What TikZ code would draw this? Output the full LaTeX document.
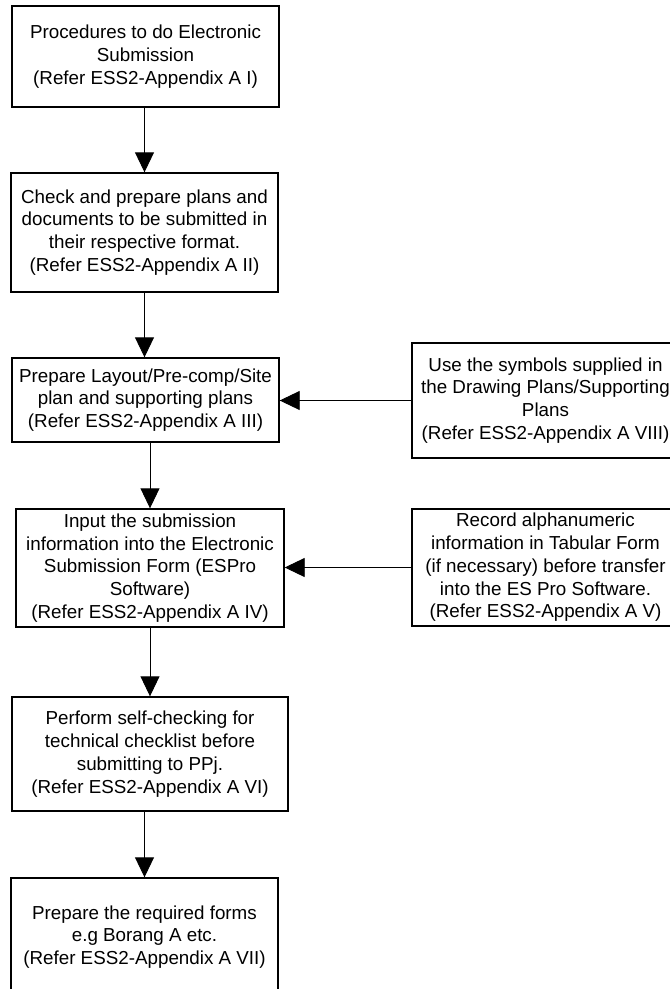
\documentclass[tikz,border=0pt]{standalone}
\usepackage{fontspec}
\setmainfont{Liberation Sans}
\usetikzlibrary{arrows.meta}
\tikzset{
  flowbox/.style={draw=black, line width=1.4pt, fill=white, align=center, inner sep=0pt,
    font=\fontsize{18.8}{22.8}\selectfont},
  flowarrow/.style={draw=black, line width=0.9pt, -{Triangle[length=20pt,width=19pt]}}
}
\begin{document}
\begin{tikzpicture}[x=1pt,y=-1pt]
\useasboundingbox (0,0) rectangle (670,989);
\clip (0,0) rectangle (670,989);
\fill[white] (0,0) rectangle (670,989);

\node[flowbox, minimum width=267pt, minimum height=101pt] (b1) at (145.5,56.5)
  {Procedures to do Electronic\\Submission\\(Refer ESS2-Appendix A I)};
\node[flowbox, minimum width=267pt, minimum height=119pt] (b2) at (144.5,232.5)
  {Check and prepare plans and\\documents to be submitted in\\their respective format.\\(Refer ESS2-Appendix A II)};
\node[flowbox, minimum width=267pt, minimum height=84pt] (b3) at (145.5,400)
  {Prepare Layout/Pre-comp/Site\\plan and supporting plans\\(Refer ESS2-Appendix A III)};
\node[flowbox, minimum width=268pt, minimum height=118pt] (b4) at (150,568)
  {Input the submission\\information into the Electronic\\Submission Form (ESPro\\Software)\\(Refer ESS2-Appendix A IV)};
\node[flowbox, minimum width=276pt, minimum height=114pt] (b5) at (150,754)
  {Perform self-checking for\\technical checklist before\\submitting to PPj.\\(Refer ESS2-Appendix A VI)};
\node[flowbox, minimum width=267pt, minimum height=118pt] (b6) at (144.5,937)
  {Prepare the required forms\\e.g Borang A etc.\\(Refer ESS2-Appendix A VII)};
\node[flowbox, minimum width=267pt, minimum height=115pt] (r1) at (545.5,400.5)
  {Use the symbols supplied in\\the Drawing Plans/Supporting\\Plans\\(Refer ESS2-Appendix A VIII)};
\node[flowbox, minimum width=267pt, minimum height=117pt] (r2) at (545.5,567.5)
  {Record alphanumeric\\information in Tabular Form\\(if necessary) before transfer\\into the ES Pro Software.\\(Refer ESS2-Appendix A V)};

\draw[flowarrow] (b1.south -| b2.north) -- (b2.north);
\draw[flowarrow] (b2.south) -- (b2.south |- b3.north);
\draw[flowarrow] (b3.south -| b4.north) -- (b4.north);
\draw[flowarrow] (b4.south) -- (b5.north);
\draw[flowarrow] (b5.south -| b6.north) -- (b6.north);
\draw[flowarrow] (r1.west) -- (r1.west -| b3.east);
\draw[flowarrow] (r2.west) -- (r2.west -| b4.east);
\end{tikzpicture}
\end{document}
